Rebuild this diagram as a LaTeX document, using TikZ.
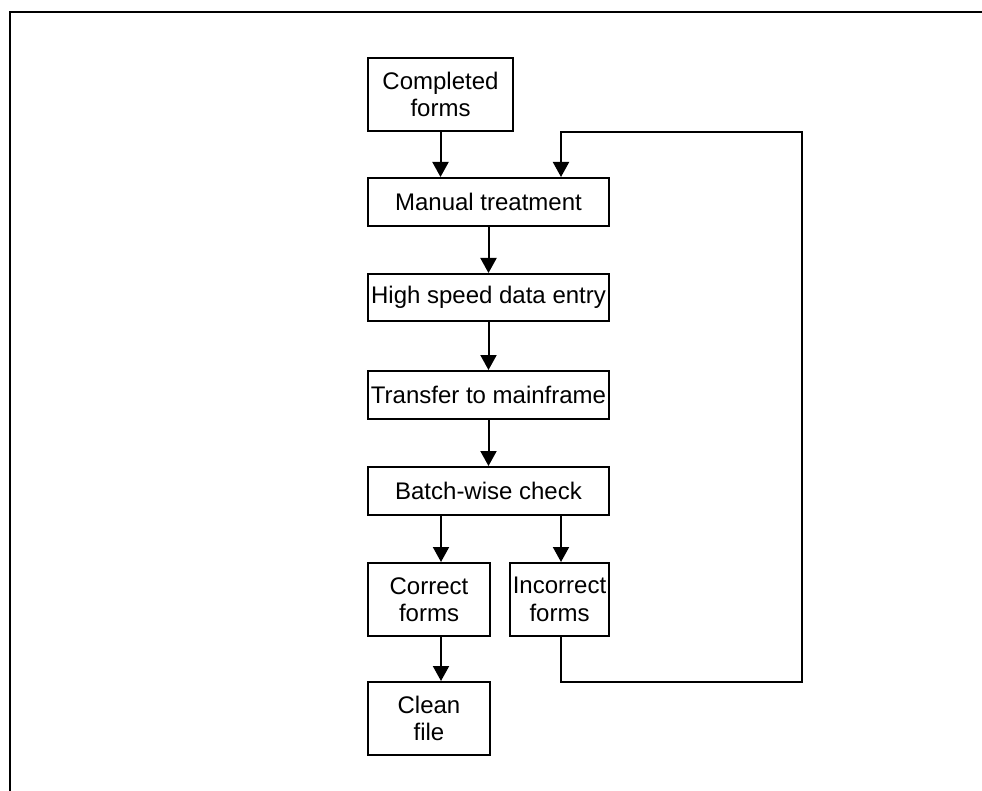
\documentclass[tikz,border=0pt]{standalone}
\usepackage{fontspec}
\setmainfont{Liberation Sans}
\usetikzlibrary{arrows.meta}
\begin{document}
\begin{tikzpicture}[x=1pt,y=-1pt,
  box/.style={draw,line width=2pt,inner sep=0pt,align=center,font=\fontsize{24}{27.5}\selectfont},
  arr/.style={line width=2pt,-{Triangle[width=16pt,length=15pt]}},
  frame/.style={line width=2.5pt}]
\useasboundingbox (0,0) rectangle (982,791);
\coordinate (fa) at (10,791);
\coordinate (fb) at (10,12);
\coordinate (fc) at (982,12);
\draw[frame] (fa) -- (fb) -- (fc);
\node[box,minimum width=145pt,minimum height=73pt] (cf) at (440.5,94.5) {Completed\\forms};
\node[box,minimum width=241pt,minimum height=48pt] (mt) at (488.5,202) {Manual treatment};
\node[box,minimum width=241pt,minimum height=47pt] (hs) at (488.5,297.5) {High speed data entry};
\node[box,minimum width=241pt,minimum height=48pt] (tm) at (488.5,395) {Transfer to mainframe};
\node[box,minimum width=241pt,minimum height=48pt] (bc) at (488.5,491) {Batch-wise check};
\node[box,minimum width=122pt,minimum height=73pt] (cor) at (429,599.5) {Correct\\forms};
\node[box,minimum width=99pt,minimum height=73pt] (inc) at (559.5,599.5) {Incorrect\\forms};
\node[box,minimum width=122pt,minimum height=73pt] (cl) at (429,718.5) {Clean\\file};
\coordinate (c1) at (441,0);
\coordinate (c2) at (561,0);
\coordinate (lb) at (802,682);
\draw[arr] (cf.south) -- (mt.north -| cf.south);
\draw[arr] (mt) -- (hs);
\draw[arr] (hs) -- (tm);
\draw[arr] (tm) -- (bc);
\draw[arr] (bc.south -| c1) -- (cor.north -| c1);
\draw[arr] (bc.south -| c2) -- (inc.north -| c2);
\draw[arr] (cor.south -| c1) -- (cl.north -| c1);
\draw[arr] (inc.south -| c2) -- (lb -| c2) -- (lb) |- (cf.south -| c2) -- (mt.north -| c2);
\end{tikzpicture}
\end{document}
